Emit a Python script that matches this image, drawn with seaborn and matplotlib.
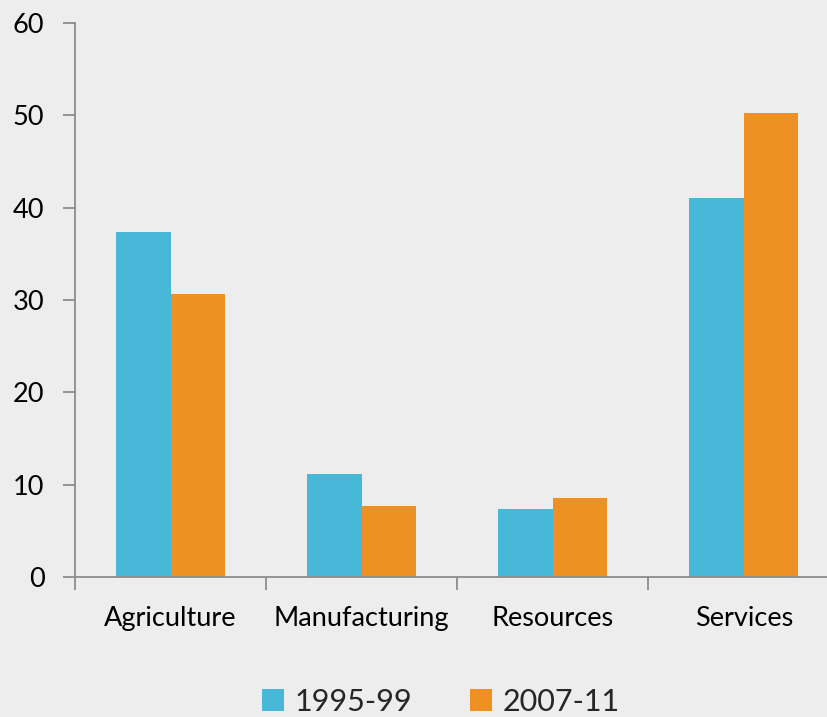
import pandas as pd
import matplotlib.pyplot as plt
import seaborn as sns

# Chart data
sectors = ['Agriculture', 'Manufacturing', 'Resources', 'Services']
periods = ['1995-99', '2007-11']
share_1995_99 = [37.4, 11.2, 7.4, 41.0]
share_2007_11 = [30.6, 7.7, 8.6, 50.3]
y_ticks = [0, 10, 20, 30, 40, 50, 60]

df = pd.DataFrame({
    'sector': sectors * 2,
    'period': [periods[0]] * len(sectors) + [periods[1]] * len(sectors),
    'share': share_1995_99 + share_2007_11,
})

sns.set_style('white')
plt.rcParams['font.family'] = ['Lato', 'DejaVu Sans']

fig = plt.figure(figsize=(8.28, 7.17), dpi=100)
fig.patch.set_facecolor('#ededed')
ax = fig.add_axes([0.0906, 0.1953, 0.9094, 0.7727])
ax.set_facecolor('none')

sns.barplot(data=df, x='sector', y='share', hue='period', order=sectors,
            hue_order=periods, palette=['#48b8d8', '#ef9023'], width=0.57,
            saturation=1, linewidth=0, ax=ax)

ax.set_ylim(0, 60)
ax.set_xlim(-0.5, 3.44)
ax.set_yticks(y_ticks)
ax.set_xlabel('')
ax.set_ylabel('')

for side in ['top', 'right']:
    ax.spines[side].set_visible(False)
for side in ['left', 'bottom']:
    ax.spines[side].set_color('#8c8c8c')
    ax.spines[side].set_linewidth(1.3)

# ticks: y outside on left, x marks between categories
ax.tick_params(axis='y', length=9, width=1.3, color='#8c8c8c', labelsize=19.5,
               pad=13, labelcolor='black', left=True)
ax.tick_params(axis='x', which='major', length=0, labelsize=19.5, pad=21,
               labelcolor='black')
ax.set_xticks([-0.5, 0.5, 1.5, 2.5], minor=True)
ax.tick_params(axis='x', which='minor', length=9, width=1.3, color='#8c8c8c',
               bottom=True)

ax.legend(loc='center', bbox_to_anchor=(0.486, -0.225), ncol=2, frameon=False,
          fontsize=22, handlelength=0.72, handleheight=0.72, handletextpad=0.35,
          columnspacing=1.9)

fig.savefig('out.png', dpi=100, facecolor=fig.get_facecolor())
